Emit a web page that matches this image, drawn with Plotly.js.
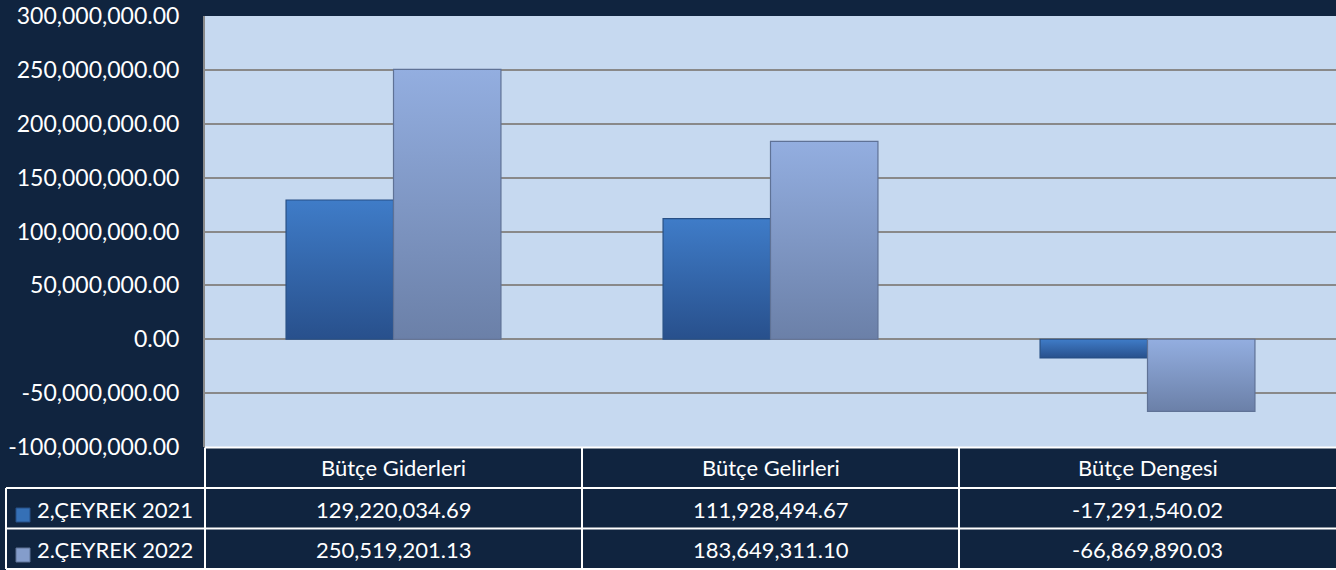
<!DOCTYPE html>
<html>
<head>
<meta charset="utf-8">
<script src="https://cdn.plot.ly/plotly-3.0.1.min.js"></script>
<style>
html,body{margin:0;padding:0;background:#10243f;}
#chart{width:1336px;height:570px;}
</style>
</head>
<body>
<div id="chart"></div>
<script>
// ---- data ----
const categories = ['Bütçe Giderleri', 'Bütçe Gelirleri', 'Bütçe Dengesi'];
const seriesNames = ['2,ÇEYREK 2021', '2.ÇEYREK 2022'];
const values2021 = [129220034.69, 111928494.67, -17291540.02];
const values2022 = [250519201.13, 183649311.10, -66869890.03];
const yTickValues = [-100000000, -50000000, 0, 50000000, 100000000, 150000000, 200000000, 250000000, 300000000];

// ---- styling ----
const W = 1336, H = 570;
const mL = 205, mR = 0, mT = 16, mB = 123;
const plotH = H - mT - mB;
const plotW = W - mL - mR;
const py = p => (H - mB - p) / plotH;     // pixel row -> paper y
const px = p => (p - mL) / plotW;         // pixel col -> paper x
const FONT = 'Lato, "Open Sans", sans-serif';
const seriesColors = ['#3570b6', '#849dcb'];
const gradTop = ['#3f7cc8', '#93aee0'];
const gradBottom = ['#28508c', '#6b80a8'];
const seriesLines = ['#274f85', '#5f7296'];
const seriesRows = [values2021, values2022];

const fmt = v => v.toLocaleString('en-US', {minimumFractionDigits: 2, maximumFractionDigits: 2});
const yTickText = yTickValues.map(fmt);

const traces = seriesRows.map((vals, i) => ({
  type: 'bar',
  name: seriesNames[i],
  x: categories,
  y: vals,
  marker: {color: seriesColors[i], line: {color: seriesLines[i], width: 1.2}},
  hoverinfo: 'skip'
}));

const annotations = [];
const shapes = [];
const rowCenters = [509, 549];
const white = '#ffffff';

// header row
categories.forEach(c => {
  annotations.push({xref: 'x', yref: 'paper', x: c, y: py(467), text: c, showarrow: false,
    xanchor: 'center', yanchor: 'middle', font: {family: FONT, size: 22, color: white}});
});
// data rows + legend column
seriesRows.forEach((vals, r) => {
  vals.forEach((v, k) => {
    annotations.push({xref: 'x', yref: 'paper', x: categories[k], y: py(rowCenters[r]), text: fmt(v),
      showarrow: false, xanchor: 'center', yanchor: 'middle', font: {family: FONT, size: 22, color: white}});
  });
  annotations.push({xref: 'paper', yref: 'paper', x: px(35), y: py(rowCenters[r]), text: seriesNames[r],
    showarrow: false, xanchor: 'left', yanchor: 'middle', font: {family: FONT, size: 22, color: white}});
  shapes.push({type: 'rect', xref: 'paper', yref: 'paper', x0: px(16), x1: px(30),
    y0: py(rowCenters[r] + 13), y1: py(rowCenters[r] - 1), fillcolor: seriesColors[r],
    line: {color: seriesLines[r], width: 1}});
});

// table grid lines
const lineStyle = {color: white, width: 2};
const hLine = (y, x0p, x1p) => shapes.push({type: 'line', xref: 'paper', yref: 'paper', x0: x0p, x1: x1p, y0: py(y), y1: py(y), line: lineStyle});
const vLineX = (xv, y0, y1) => shapes.push({type: 'line', xref: 'x', yref: 'paper', x0: xv, x1: xv, y0: py(y0), y1: py(y1), line: lineStyle});
hLine(447.5, 0, 1);
hLine(488, px(6), 1);
hLine(528.5, px(6), 1);
hLine(569, px(6), 1);
shapes.push({type: 'line', xref: 'paper', yref: 'paper', x0: px(6), x1: px(6), y0: py(488), y1: py(569), line: lineStyle});
shapes.push({type: 'line', xref: 'paper', yref: 'paper', x0: 0, x1: 0, y0: py(447.5), y1: py(569), line: lineStyle});
vLineX(0.5, 447.5, 569);
vLineX(1.5, 447.5, 569);

const layout = {
  width: W, height: H,
  margin: {l: mL, r: mR, t: mT, b: mB, pad: 0},
  paper_bgcolor: '#10243f',
  plot_bgcolor: '#c6d9f0',
  showlegend: false,
  barmode: 'group',
  bargap: 0.43,
  bargroupgap: 0,
  font: {family: FONT, color: white},
  xaxis: {type: 'category', range: [-0.5, 2.5], showticklabels: false, ticks: '', showgrid: false,
    zeroline: false, showline: false, fixedrange: true},
  yaxis: {range: [-100000000, 300000000], tickmode: 'array', tickvals: yTickValues, ticktext: yTickText,
    tickfont: {family: FONT, size: 23, color: white}, ticks: '', ticklabelstandoff: 19,
    showgrid: true, gridcolor: '#898989', gridwidth: 2, zeroline: true, zerolinecolor: '#898989', zerolinewidth: 2,
    showline: true, linecolor: '#898989', linewidth: 2, fixedrange: true},
  annotations: annotations,
  shapes: shapes
};

function applyGradients(gd) {
  const svg = gd.querySelector('svg.main-svg');
  if (!svg) return;
  const ns = 'http://www.w3.org/2000/svg';
  let defs = svg.querySelector('defs');
  if (!defs) { defs = document.createElementNS(ns, 'defs'); svg.insertBefore(defs, svg.firstChild); }
  gradTop.forEach((top, i) => {
    const g = document.createElementNS(ns, 'linearGradient');
    g.setAttribute('id', 'barGrad' + i);
    g.setAttribute('x1', '0'); g.setAttribute('y1', '0'); g.setAttribute('x2', '0'); g.setAttribute('y2', '1');
    [[0, top], [1, gradBottom[i]]].forEach(([o, c]) => {
      const s = document.createElementNS(ns, 'stop');
      s.setAttribute('offset', o); s.setAttribute('stop-color', c);
      g.appendChild(s);
    });
    defs.appendChild(g);
  });
  gd.querySelectorAll('.barlayer .trace').forEach((tr, i) => {
    tr.querySelectorAll('.point path').forEach(p => { p.style.fill = 'url(#barGrad' + i + ')'; });
  });
}

Plotly.newPlot('chart', traces, layout, {displayModeBar: false, staticPlot: true}).then(applyGradients);
</script>
</body>
</html>
